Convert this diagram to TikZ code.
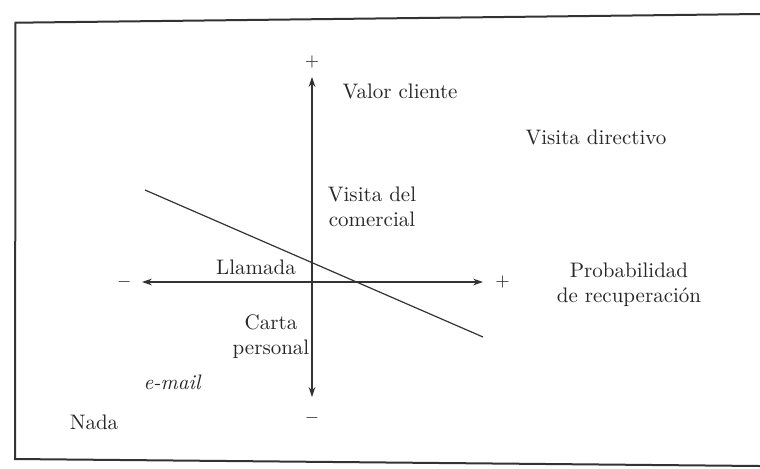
\documentclass[tikz,border=0pt]{standalone}
\usepackage{tikz}
\usetikzlibrary{arrows.meta, positioning}

\begin{document}
\begin{tikzpicture}[x=0.5pt, y=-0.5pt,
    every node/.style={inner sep=1pt, text=black!85},
    lbl/.style={align=center, font=\fontsize{10.5}{12.4}\selectfont},
    sgn/.style={font=\fontsize{9}{10}\selectfont},
    axis/.style={draw=black!80, line width=0.6pt,
      {Stealth[length=5pt,width=3.4pt]}-{Stealth[length=5pt,width=3.4pt]}}]
      \useasboundingbox (0,0) rectangle (760,468);
      % frame of the figure
      \draw[black!80, line width=1pt] (760,14) -- (15.5,22.7) -- (15,459) -- (760,466);
      % axes
      \coordinate (top) at (312,77);
      \coordinate (bot) at (312,397);
      \coordinate (lft) at (142,282);
      \coordinate (rgt) at (483,282);
      \draw[axis] (top) -- (bot);
      \draw[axis] (lft) -- (rgt);
      \node[sgn, above=3pt of top] (ptop) {$+$};
      \node[sgn, below=6pt of bot] (mbot) {$-$};
      \node[sgn, left=4pt of lft] (mlft) {$-$};
      \node[sgn, right=5pt of rgt] (prgt) {$+$};
      % dividing line
      \coordinate (d1) at (145,190);
      \coordinate (d2) at (483,337);
      \draw[black!80, line width=0.6pt] (d1) -- (d2);
      % actions
      \node[lbl] (valor) at (400,91) {Valor cliente};
      \node[lbl] (directivo) at (596,137) {Visita directivo};
      \node[lbl] (comercial) at (372,207) {Visita del\\comercial};
      \node[lbl] (llamada) at (256,267) {Llamada};
      \node[lbl] (prob) at (629,285) {Probabilidad\\de recuperación};
      \node[lbl] (carta) at (271,337) {Carta\\personal};
      \node[lbl, font=\fontsize{10.5}{12.4}\selectfont\itshape] (email) at (172,382) {e-mail};
      \node[lbl] (nada) at (94,422) {Nada};
\end{tikzpicture}
\end{document}
